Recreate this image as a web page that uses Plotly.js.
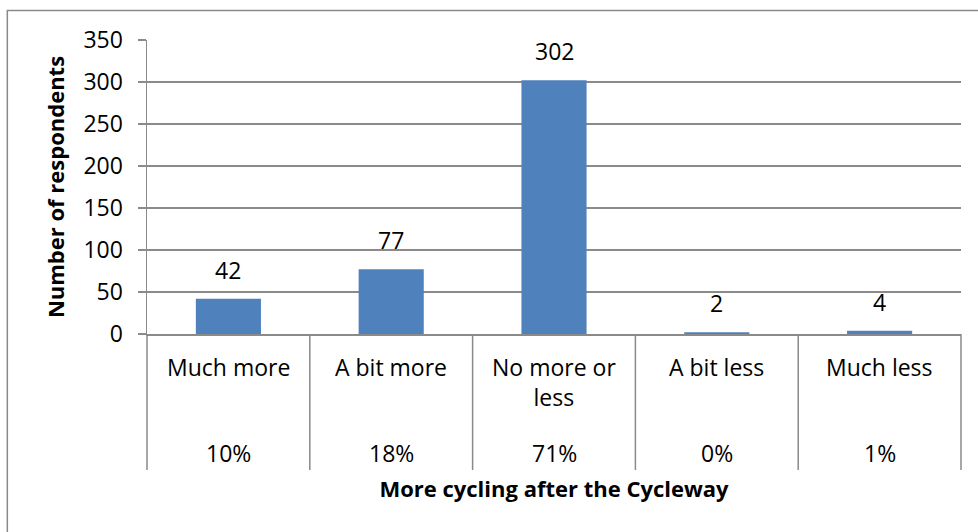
<!DOCTYPE html>
<html>
<head>
<meta charset="utf-8">
<script src="https://cdn.plot.ly/plotly-3.0.1.min.js"></script>
<style>
  html, body { margin: 0; padding: 0; background: #ffffff; }
  #chart { width: 978px; height: 532px; }
</style>
</head>
<body>
<div id="chart"></div>
<script>
// ---- data ----
const categories = ['Much more', 'A bit more', 'No more or less', 'A bit less', 'Much less'];
const respondents = [42, 77, 302, 2, 4];
const percentages = [10, 18, 71, 0, 1];
const yTitle = 'Number of respondents';
const xTitle = 'More cycling after the Cycleway';

// ---- styling ----
const FONT = 'Open Sans, Noto Sans, sans-serif';
const GRID = '#8a8a8a';
const BAR = '#4f81bd';
const LABEL_SIZE = 23;
const TITLE_SIZE = 22;

function wrap(label, maxLen) {
  if (label.length <= maxLen) return label;
  const cut = label.lastIndexOf(' ', maxLen);
  return cut > 0 ? label.slice(0, cut) + '<br>' + label.slice(cut + 1) : label;
}

const trace = {
  type: 'bar',
  x: categories,
  y: respondents,
  width: 0.4,
  marker: { color: BAR, line: { width: 0 } },
  hoverinfo: 'x+y'
};

const annotations = [];
categories.forEach((c, i) => {
  // value labels above bars
  annotations.push({
    x: c, y: respondents[i], xref: 'x', yref: 'y',
    text: String(respondents[i]), showarrow: false,
    yanchor: 'bottom', yshift: 11,
    font: { family: FONT, size: LABEL_SIZE, color: '#000' }
  });
  // category labels
  annotations.push({
    x: c, y: 0, xref: 'x', yref: 'paper',
    text: wrap(c, 11), showarrow: false,
    yanchor: 'top', yshift: -15, align: 'center',
    font: { family: FONT, size: LABEL_SIZE, color: '#000' }
  });
  // percentage labels
  annotations.push({
    x: c, y: 0, xref: 'x', yref: 'paper',
    text: percentages[i] + '%', showarrow: false,
    yanchor: 'top', yshift: -101,
    font: { family: FONT, size: LABEL_SIZE, color: '#000' }
  });
});

// category separators (including both ends) extending below the axis
const plotH = 532 - 40 - 198;
const sepBottom = -136 / plotH;
const shapes = [];
for (let k = 0; k <= categories.length; k++) {
  shapes.push({
    type: 'line', xref: 'x domain', yref: 'paper',
    x0: k / categories.length, x1: k / categories.length,
    y0: 0, y1: sepBottom,
    line: { color: GRID, width: 1.5 }
  });
}
// outer chart frame (only left and top edges visible)
shapes.push({
  type: 'path', xref: 'paper', yref: 'paper',
  path: 'M -0.1716,-0.8 L -0.1716,1.1005 L 1.2,1.1005',
  line: { color: GRID, width: 1.5 }
});

const layout = {
  width: 978, height: 532,
  margin: { l: 147, r: 17, t: 40, b: 198 },
  paper_bgcolor: '#ffffff', plot_bgcolor: '#ffffff',
  font: { family: FONT, color: '#000' },
  showlegend: false,
  bargap: 0.6,
  xaxis: {
    type: 'category',
    showticklabels: false,
    ticks: '',
    showgrid: false,
    zeroline: false,
    showline: true, linecolor: GRID, linewidth: 1.5,
    title: { text: xTitle, font: { family: FONT, size: TITLE_SIZE, color: '#000', weight: 'bold' }, standoff: 147 }
  },
  yaxis: {
    range: [0, 350], dtick: 50,
    showgrid: true, gridcolor: GRID, gridwidth: 1.3,
    zeroline: false,
    showline: true, linecolor: GRID, linewidth: 1.5,
    ticks: 'outside', ticklen: 8, tickcolor: GRID, tickwidth: 1.5,
    ticklabelstandoff: 10,
    tickfont: { family: FONT, size: LABEL_SIZE, color: '#000' },
    title: { text: yTitle, font: { family: FONT, size: TITLE_SIZE, color: '#000', weight: 'bold' }, standoff: 12 }
  },
  annotations: annotations,
  shapes: shapes
};

Plotly.newPlot('chart', [trace], layout, { displayModeBar: false, staticPlot: true });
</script>
</body>
</html>
